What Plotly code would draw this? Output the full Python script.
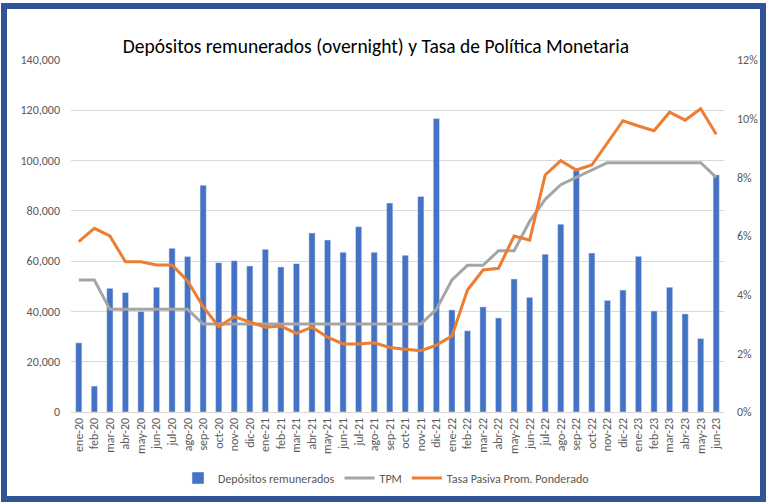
import plotly.graph_objects as go

meses = ["ene-20", "feb-20", "mar-20", "abr-20", "may-20", "jun-20", "jul-20", "ago-20",
         "sep-20", "oct-20", "nov-20", "dic-20", "ene-21", "feb-21", "mar-21", "abr-21",
         "may-21", "jun-21", "jul-21", "ago-21", "sep-21", "oct-21", "nov-21", "dic-21",
         "ene-22", "feb-22", "mar-22", "abr-22", "may-22", "jun-22", "jul-22", "ago-22",
         "sep-22", "oct-22", "nov-22", "dic-22", "ene-23", "feb-23", "mar-23", "abr-23",
         "may-23", "jun-23"]

depositos = [27500, 10300, 49200, 47500, 40000, 49600, 65100, 61800,
             90200, 59400, 60200, 58100, 64700, 57700, 59000, 71200,
             68400, 63500, 73700, 63500, 83100, 62300, 85700, 116700,
             40600, 32300, 41800, 37400, 52900, 45600, 62700, 74700,
             96000, 63200, 44400, 48500, 61900, 40200, 49600, 39000,
             29200, 94300]

tpm = [4.5, 4.5, 3.5, 3.5, 3.5, 3.5, 3.5, 3.5,
       3.0, 3.0, 3.0, 3.0, 3.0, 3.0, 3.0, 3.0,
       3.0, 3.0, 3.0, 3.0, 3.0, 3.0, 3.0, 3.5,
       4.5, 5.0, 5.0, 5.5, 5.5, 6.5, 7.25, 7.75,
       8.0, 8.25, 8.5, 8.5, 8.5, 8.5, 8.5, 8.5,
       8.5, 8.0]

tasa_pasiva = [5.81, 6.26, 6.0, 5.12, 5.12, 5.01, 5.01, 4.47,
               3.59, 2.91, 3.25, 3.08, 2.89, 2.93, 2.68, 2.89,
               2.55, 2.32, 2.32, 2.36, 2.2, 2.14, 2.09, 2.28,
               2.59, 4.16, 4.84, 4.9, 6.0, 5.86, 8.08, 8.57,
               8.25, 8.42, 9.16, 9.93, 9.75, 9.59, 10.22, 9.95,
               10.34, 9.47]

font = "Carlito, Calibri, 'Liberation Sans Narrow', 'Noto Sans', sans-serif"

fig = go.Figure()

fig.add_trace(go.Bar(
    x=meses, y=depositos,
    name="Depósitos remunerados",
    marker_color="#4472C4",
    yaxis="y"
))

fig.add_trace(go.Scatter(
    x=meses, y=tpm,
    name="TPM",
    mode="lines",
    line=dict(color="#A5A5A5", width=3),
    yaxis="y2"
))

fig.add_trace(go.Scatter(
    x=meses, y=tasa_pasiva,
    name="Tasa Pasiva Prom. Ponderado",
    mode="lines",
    line=dict(color="#ED7D31", width=3),
    yaxis="y2"
))

# plot area in pixels: l=71, r=724, top=60, bottom=412
L, R, T, B = 71, 724, 60, 412
W, H = R - L, B - T


def px_x(p):
    return (p - L) / W


def px_y(p):
    return (B - p) / H


fig.update_layout(
    width=767, height=502,
    margin=dict(l=L, r=767 - R, t=T, b=502 - B, autoexpand=False),
    paper_bgcolor="white",
    plot_bgcolor="white",
    font=dict(family=font, color="#595959", size=12),
    title=dict(text="Depósitos remunerados (overnight) y Tasa de Política Monetaria",
               x=376 / 767, xanchor="center", y=1 - 46 / 502, yanchor="middle",
               font=dict(size=19.5, color="#000000")),
    bargap=0.6,
    showlegend=True,
    legend=dict(orientation="h", x=px_x(386), xanchor="center", y=px_y(478), yanchor="middle",
                font=dict(size=12, color="#595959"), traceorder="normal"),
    xaxis=dict(tickangle=-90, showgrid=False, showline=True, linecolor="#D9D9D9",
               tickfont=dict(size=12, color="#595959"), ticks=""),
    yaxis=dict(range=[0, 140000], dtick=20000, tickformat=",", showgrid=True,
               gridcolor="#D9D9D9", zeroline=False, ticks="", ticklabelstandoff=10,
               tickfont=dict(size=12, color="#595959")),
    yaxis2=dict(range=[0, 12], dtick=2, ticksuffix="%", overlaying="y", side="right",
                showgrid=False, zeroline=False, ticks="", ticklabelstandoff=12,
                tickfont=dict(size=12, color="#595959")),
    shapes=[dict(type="rect", xref="paper", yref="paper",
                 x0=px_x(4), x1=px_x(763), y0=px_y(6), y1=px_y(499),
                 line=dict(color="#2F5597", width=6), layer="below")],
)

fig.write_html("out.html", config={"displayModeBar": False},
               post_script="document.body.style.margin='0';")
